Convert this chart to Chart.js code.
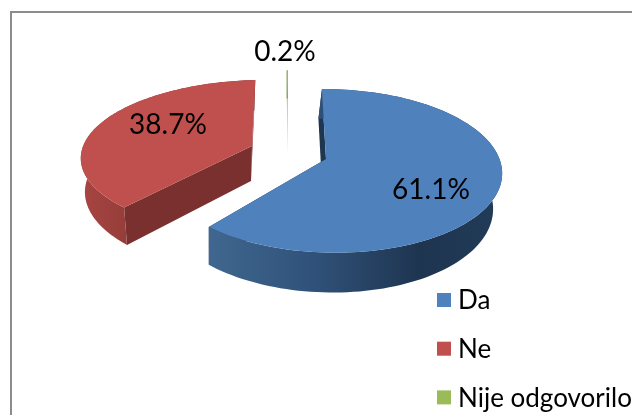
<!DOCTYPE html>
<html>
<head>
<meta charset="utf-8">
<title>Pie</title>
<script src="https://cdn.jsdelivr.net/npm/chart.js@4"></script>
<style>
html, body { margin: 0; padding: 0; background: #fff; overflow: hidden; }
#wrap { width: 632px; height: 415px; }
</style>
</head>
<body>
<div id="wrap"><canvas id="canvas" width="632" height="415"></canvas></div>
<script>
var categories = ['Da', 'Ne', 'Nije odgovorilo'];
var values = [61.1, 38.7, 0.2];
var colors = ['#4f81bd', '#c0504d', '#9bbb59'];

// how each exploded slice sits on screen, the old 3d pie has real perspective
var slices = [
	{ ox: 326, oy: 159, a: 170, b: 80, c: 4.7, p: 0.146, q: 0.02, depth: 34, taper: 0.031, shift: -3.6,
		cut: '#1f3650', wall: ['#40678f', '#30527a', '#1e3550', '#213b58'], lx: 431, ly: 190 },
	{ ox: 252, oy: 146, a: 179, b: 75, c: -6, p: 0.135, q: 0.06, depth: 35, taper: 0.03, shift: -1,
		cut: '#79302e', wall: ['#a84542', '#8f3b38', '#79302e', '#79302e'], lx: 168, ly: 125 },
	{ ox: 288, oy: 122, a: 120, b: 59, c: 0, p: 0.146, q: 0, depth: 32, taper: 0, shift: 0,
		cut: '#c9d2b8', wall: ['#6f8a3f', '#6f8a3f', '#6f8a3f', '#6f8a3f'], lx: 285, ly: 52 }
];
var legendStyle = { x: 437, y: 300, step: 48.7, box: 14, textX: 458, font: '26px Lato' };

function project(s, ang, r, low) {
	var x = Math.cos(ang) * r, y = Math.sin(ang) * r;
	var w = 1 - s.p * y - s.q * x;
	// lower rim pulls in a little
	var taper = low ? 1 - s.taper : 1;
	return {
		x: s.ox + (s.a * x + s.c * y) * taper / w + (low ? s.shift : 0),
		y: s.oy + (s.b * y + (low ? s.depth : 0)) / w
	};
}

function arcPoints(s, from, to, low) {
	var pts = [], n = 120;
	for (var i = 0; i <= n; i++) {
		pts.push(project(s, from + (to - from) * i / n, 1, low));
	}
	return pts;
}

function fillPoly(ctx, pts, style) {
	ctx.beginPath();
	pts.forEach(function (pt, i) {
		if (i == 0) ctx.moveTo(pt.x, pt.y);
		else ctx.lineTo(pt.x, pt.y);
	});
	ctx.closePath();
	ctx.fillStyle = style;
	ctx.fill();
}

var pie3d = {
	id: 'pie3d',
	beforeDraw: function (chart) {
		// gray frame, the bottom is cut off in the original
		var ctx = chart.ctx;
		ctx.save();
		ctx.strokeStyle = '#8c8c8c';
		ctx.lineWidth = 2;
		ctx.strokeRect(11, 12, 640, 440);
		ctx.restore();
	},
	beforeDatasetDraw: function (chart, args) {
		var ctx = chart.ctx;
		var arcs = args.meta.data;
		ctx.save();
		arcs.forEach(function (arc, i) {
			var s = slices[i];
			var from = arc.startAngle, to = arc.endAngle;
			var centerTop = project(s, 0, 0, false), centerLow = project(s, 0, 0, true);
			// cut faces first
			[from, to].forEach(function (ang) {
				fillPoly(ctx, [centerTop, project(s, ang, 1, false), project(s, ang, 1, true), centerLow], s.cut);
			});
			// outer wall
			var top = arcPoints(s, from, to, false);
			var low = arcPoints(s, from, to, true).reverse();
			var xs = top.map(function (pt) { return pt.x; });
			var minX = Math.min.apply(null, xs), maxX = Math.max.apply(null, xs);
			var grad = ctx.createLinearGradient(minX, 0, maxX + 0.01, 0);
			grad.addColorStop(0, s.wall[0]);
			grad.addColorStop(0.35, s.wall[1]);
			grad.addColorStop(0.72, s.wall[2]);
			grad.addColorStop(1, s.wall[3]);
			fillPoly(ctx, top.concat(low), grad);
			// top surface
			fillPoly(ctx, [centerTop].concat(top), colors[i]);
		});
		ctx.restore();
		return false;
	},
	afterDatasetsDraw: function (chart) {
		var ctx = chart.ctx;
		ctx.save();
		ctx.fillStyle = '#000';
		ctx.font = '28px Lato';
		ctx.textAlign = 'center';
		ctx.textBaseline = 'middle';
		values.forEach(function (v, i) {
			ctx.fillText(v.toFixed(1) + '%', slices[i].lx, slices[i].ly);
		});
		// legend by hand, the built in one keeps too wide a gap after the box
		var l = legendStyle;
		ctx.font = l.font;
		ctx.textAlign = 'left';
		categories.forEach(function (name, i) {
			var cy = l.y + l.step * i;
			ctx.fillStyle = colors[i];
			ctx.fillRect(l.x, cy - l.box / 2, l.box, l.box);
			ctx.fillStyle = '#000';
			ctx.fillText(name, l.textX, cy + 1);
		});
		ctx.restore();
	}
};

window.onload = function () {
	var ctx = document.getElementById('canvas').getContext('2d');
	window.myPie = new Chart(ctx, {
		type: 'pie',
		data: {
			labels: categories,
			datasets: [{ data: values, backgroundColor: colors, borderWidth: 0 }]
		},
		options: {
			responsive: false,
			animation: false,
			plugins: {
				tooltip: { enabled: false },
				legend: { display: false }
			}
		},
		plugins: [pie3d]
	});
};
</script>
</body>
</html>
